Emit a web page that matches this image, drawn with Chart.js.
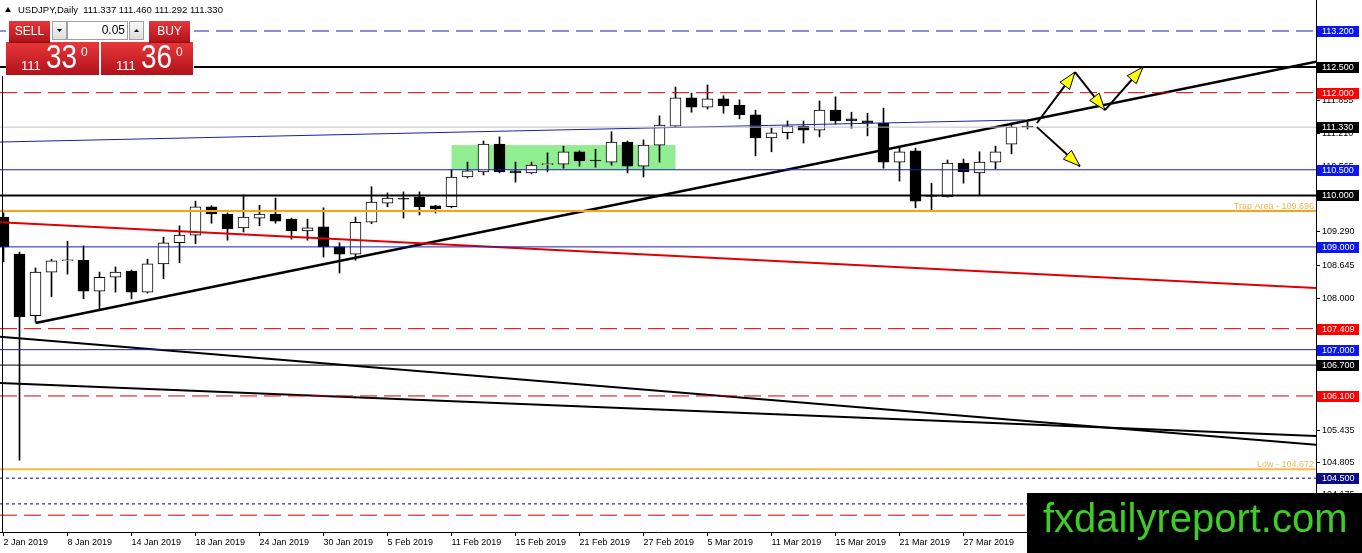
<!DOCTYPE html>
<html>
<head>
<meta charset="utf-8">
<title>USDJPY Daily</title>
<script src="https://cdn.jsdelivr.net/npm/chart.js"></script>
<style>
    html, body { margin: 0; padding: 0; background: #fff; overflow: hidden; }
    canvas { display: block; }
</style>
</head>
<body>
<canvas id="usdjpyChart" width="1362" height="553"></canvas>
<script>
(function () {
    "use strict";

    // Daily candles, 2 Jan - 2 Apr 2019
    const days = [
        '2 Jan', '3 Jan', '4 Jan', '7 Jan', '8 Jan', '9 Jan', '10 Jan', '11 Jan', '14 Jan', '15 Jan',
        '16 Jan', '17 Jan', '18 Jan', '21 Jan', '22 Jan', '23 Jan', '24 Jan', '25 Jan', '28 Jan', '29 Jan',
        '30 Jan', '31 Jan', '1 Feb', '4 Feb', '5 Feb', '6 Feb', '7 Feb', '8 Feb', '11 Feb', '12 Feb',
        '13 Feb', '14 Feb', '15 Feb', '18 Feb', '19 Feb', '20 Feb', '21 Feb', '22 Feb', '25 Feb', '26 Feb',
        '27 Feb', '28 Feb', '1 Mar', '4 Mar', '5 Mar', '6 Mar', '7 Mar', '8 Mar', '11 Mar', '12 Mar',
        '13 Mar', '14 Mar', '15 Mar', '18 Mar', '19 Mar', '20 Mar', '21 Mar', '22 Mar', '25 Mar', '26 Mar',
        '27 Mar', '28 Mar', '29 Mar', '1 Apr', '2 Apr'
    ];
    const opens = [
        109.58, 108.86, 107.66, 108.51, 108.73, 108.74, 108.14, 108.41, 108.53, 108.12,
        108.67, 109.08, 109.23, 109.78, 109.64, 109.37, 109.56, 109.64, 109.54, 109.31,
        109.39, 109.00, 108.86, 109.48, 109.85, 109.95, 109.97, 109.80, 109.78, 110.36,
        110.46, 111.00, 110.48, 110.44, 110.60, 110.61, 110.85, 110.69, 110.65, 111.04,
        110.57, 110.98, 111.35, 111.90, 111.72, 111.88, 111.76, 111.57, 111.12, 111.22,
        111.35, 111.27, 111.66, 111.49, 111.45, 111.41, 110.65, 110.87, 109.99, 109.97,
        110.63, 110.44, 110.65, 111.00, 111.337
    ];
    const highs = [
        109.66, 108.90, 108.59, 108.76, 109.11, 109.02, 108.51, 108.61, 108.55, 108.76,
        109.19, 109.41, 109.89, 109.80, 109.66, 110.01, 109.81, 109.95, 109.56, 109.54,
        109.76, 109.08, 109.58, 110.17, 110.05, 110.07, 110.07, 109.81, 110.50, 110.65,
        111.06, 111.14, 110.65, 110.65, 110.83, 110.96, 110.87, 110.90, 111.24, 111.06,
        111.08, 111.55, 112.11, 111.99, 112.15, 111.94, 111.86, 111.66, 111.31, 111.45,
        111.45, 111.84, 111.92, 111.62, 111.60, 111.70, 110.94, 110.92, 110.24, 110.69,
        110.71, 110.85, 110.96, 111.41, 111.460
    ];
    const lows = [
        108.71, 104.85, 107.54, 108.03, 108.47, 107.99, 107.77, 108.12, 107.99, 108.10,
        108.38, 108.69, 109.06, 109.46, 109.13, 109.29, 109.41, 109.46, 109.15, 109.13,
        108.80, 108.49, 108.74, 109.45, 109.78, 109.56, 109.62, 109.66, 109.76, 110.34,
        110.40, 110.44, 110.26, 110.42, 110.46, 110.53, 110.57, 110.55, 110.59, 110.44,
        110.36, 110.65, 111.33, 111.62, 111.68, 111.60, 111.49, 110.77, 110.85, 111.10,
        111.02, 111.14, 111.39, 111.31, 111.16, 110.53, 110.28, 109.76, 109.72, 109.97,
        110.24, 110.01, 110.52, 110.81, 111.292
    ];
    const closes = [
        109.00, 107.64, 108.51, 108.73, 108.74, 108.14, 108.41, 108.51, 108.12, 108.67,
        109.08, 109.23, 109.78, 109.64, 109.35, 109.58, 109.64, 109.50, 109.31, 109.37,
        109.00, 108.86, 109.48, 109.87, 109.95, 109.93, 109.78, 109.74, 110.36, 110.48,
        111.00, 110.46, 110.44, 110.59, 110.61, 110.85, 110.67, 110.67, 111.04, 110.57,
        110.98, 111.37, 111.90, 111.72, 111.88, 111.74, 111.57, 111.12, 111.22, 111.35,
        111.27, 111.66, 111.45, 111.45, 111.41, 110.65, 110.85, 109.89, 109.98, 110.63,
        110.46, 110.65, 110.85, 111.33, 111.330
    ];
    const askPrice = 111.360;
    const lotSize = '0.05';

    // Axis labels
    const dateTickIndex = [0, 4, 8, 12, 16, 20, 24, 28, 32, 36, 40, 44, 48, 52, 56, 60];
    const dateTickLabels = [
        '2 Jan 2019', '8 Jan 2019', '14 Jan 2019', '18 Jan 2019', '24 Jan 2019', '30 Jan 2019',
        '5 Feb 2019', '11 Feb 2019', '15 Feb 2019', '21 Feb 2019', '27 Feb 2019', '5 Mar 2019',
        '11 Mar 2019', '15 Mar 2019', '21 Mar 2019', '27 Mar 2019'
    ];
    const priceTicks = [113.130, 112.500, 111.855, 111.210, 110.565, 109.935, 109.290, 108.645,
        108.000, 107.355, 106.725, 106.080, 105.435, 104.805, 104.175];

    // Horizontal levels drawn on the chart
    const levelValues = [113.200, 112.500, 112.000, 111.330, 110.500, 110.000, 109.696, 109.000,
        107.409, 107.000, 106.700, 106.100, 104.672, 104.500, 104.000, 103.780];
    const levelNotes = { 109.696: 'Trap Area - 109.696', 104.672: 'Low - 104.672' };

    // Trend lines as [bar index, price] end points
    const blueTrend = [[-0.22, 111.04], [63.84, 111.47]];
    const riseTrend = [[2, 107.52], [82.03, 112.60]];
    const redTrend = [[-0.22, 109.48], [82.03, 108.20]];
    const fallTrendA = [[-0.22, 107.25], [82.03, 105.15]];
    const fallTrendB = [[-0.22, 106.35], [82.03, 105.32]];

    // Consolidation box (bar index range, price range)
    const zoneBars = [28, 42];
    const zonePrices = [110.50, 110.98];

    // Scenario arrows [[from], [to]]
    const arrowPaths = [
        [[64.59, 111.41], [66.97, 112.40]],
        [[66.97, 112.40], [68.84, 111.66]],
        [[68.84, 111.66], [71.22, 112.50]],
        [[64.59, 111.33], [67.28, 110.57]]
    ];

    // ---- styles ----
    const BLUE = '#1e1eaa', RED = '#d40000', NAVY = '#000080';
    const levelStyles = [
        { color: BLUE, width: 1, dash: [17, 7], tag: '#0b17f2' },
        { color: '#000', width: 2, dash: [], tag: '#000' },
        { color: RED, width: 1, dash: [17, 7], tag: '#ff0000' },
        { color: '#c0c0c0', width: 1, dash: [], tag: '#000' },
        { color: BLUE, width: 1, dash: [], tag: '#0b17f2' },
        { color: '#000', width: 2, dash: [], tag: '#000' },
        { color: '#f7a21b', width: 2, dash: [], tag: null, note: '#f2b64a' },
        { color: BLUE, width: 1, dash: [], tag: '#0b17f2' },
        { color: RED, width: 1, dash: [17, 7], tag: '#ff0000' },
        { color: BLUE, width: 1, dash: [], tag: '#0b17f2' },
        { color: '#000', width: 1, dash: [], tag: '#000' },
        { color: RED, width: 1, dash: [17, 7], tag: '#ff0000' },
        { color: '#f0be3c', width: 2, dash: [], tag: null, note: '#eab85c' },
        { color: NAVY, width: 1, dash: [3, 3], tag: '#0b0b8a' },
        { color: NAVY, width: 1, dash: [3, 3], tag: null },
        { color: RED, width: 1, dash: [17, 7], tag: null }
    ];

    const FONT = "'Liberation Sans', Arial, sans-serif";
    const axisFont = { family: FONT, size: 9 };

    // visible range: 16 px per bar, first bar centred at 3.5 px
    const xMin = -3.5 / 16, xMax = xMin + 1316 / 16;
    const yMax = 113.2 + 31 / 51.4, yMin = yMax - 532 / 51.4;

    const lineSet = (pts, color, width, dash) => ({
        type: 'line',
        data: pts.map(p => ({ x: p[0], y: p[1] })),
        borderColor: color,
        borderWidth: width,
        borderDash: dash || [],
        pointRadius: 0,
        tension: 0,
        order: 1,
        clip: 0
    });

    const datasets = [];
    levelValues.forEach((v, k) => {
        const st = levelStyles[k];
        datasets.push(lineSet([[xMin, v], [xMax, v]], st.color, st.width, st.dash));
    });
    datasets.push(lineSet(blueTrend, BLUE, 1));
    datasets.push(lineSet(redTrend, '#e00000', 2));
    datasets.push(lineSet(fallTrendA, '#000', 2));
    datasets.push(lineSet(fallTrendB, '#000', 2));
    datasets.push(lineSet(riseTrend, '#000', 2.5));

    // candle bodies
    datasets.push({
        type: 'bar',
        data: days.map((d, i) => ({ x: i, y: [opens[i], closes[i]] })),
        backgroundColor: days.map((d, i) => closes[i] > opens[i] ? '#fff' : '#000'),
        borderColor: '#000',
        borderWidth: 1,
        borderSkipped: false,
        barThickness: 11,
        minBarLength: 1,
        grouped: false,
        order: 2,
        clip: 0
    });
    // wicks
    datasets.push({
        type: 'bar',
        data: days.map((d, i) => ({ x: i, y: [lows[i], highs[i]] })),
        backgroundColor: '#000',
        borderWidth: 0,
        barThickness: 1,
        grouped: false,
        order: 3,
        clip: 0
    });

    function drawArrow(ctx, x0, y0, x1, y1) {
        const a = Math.atan2(y1 - y0, x1 - x0);
        const len = 17, half = 6;
        ctx.strokeStyle = '#000';
        ctx.lineWidth = 2;
        ctx.beginPath();
        ctx.moveTo(x0, y0);
        ctx.lineTo(x1, y1);
        ctx.stroke();
        const bx = x1 - Math.cos(a) * len, by = y1 - Math.sin(a) * len;
        ctx.beginPath();
        ctx.moveTo(x1, y1);
        ctx.lineTo(bx + Math.sin(a) * half, by - Math.cos(a) * half);
        ctx.lineTo(bx - Math.sin(a) * half, by + Math.cos(a) * half);
        ctx.closePath();
        ctx.fillStyle = '#ffff00';
        ctx.fill();
        ctx.lineWidth = 1;
        ctx.stroke();
    }

    function redBox(ctx, x, y, w, h) {
        const g = ctx.createLinearGradient(0, y, 0, y + h);
        g.addColorStop(0, '#e8373b');
        g.addColorStop(1, '#b0121a');
        ctx.fillStyle = g;
        ctx.fillRect(x, y, w, h);
    }

    function grayBox(ctx, x, y, w, h) {
        const g = ctx.createLinearGradient(0, y, 0, y + h);
        g.addColorStop(0, '#fafafa');
        g.addColorStop(1, '#dcdcdc');
        ctx.fillStyle = g;
        ctx.fillRect(x, y, w, h);
        ctx.strokeStyle = '#a0a0a0';
        ctx.lineWidth = 1;
        ctx.strokeRect(x + 0.5, y + 0.5, w - 1, h - 1);
    }

    function drawQuote(ctx, price, x) {
        const s = price.toFixed(3);
        ctx.fillStyle = '#fff';
        ctx.textBaseline = 'alphabetic';
        ctx.textAlign = 'left';
        ctx.font = '13px ' + FONT;
        ctx.fillText(s.slice(0, 3), x + 15, 70);
        ctx.save();
        ctx.translate(x + 40, 68);
        ctx.scale(0.82, 1);
        ctx.font = '34px ' + FONT;
        ctx.fillText(s.slice(4, 6), 0, 0);
        ctx.restore();
        ctx.font = '12px ' + FONT;
        ctx.fillText(s.slice(6), x + 75, 56);
    }

    function drawPanel(ctx) {
        const last = days.length - 1;
        // symbol line
        ctx.fillStyle = '#000';
        ctx.beginPath();
        ctx.moveTo(5, 12); ctx.lineTo(11, 12); ctx.lineTo(8, 7);
        ctx.closePath();
        ctx.fill();
        ctx.font = '9.5px ' + FONT;
        ctx.textAlign = 'left';
        ctx.textBaseline = 'middle';
        ctx.fillText('USDJPY,Daily  ' + [opens[last], highs[last], lows[last], closes[last]]
            .map(v => v.toFixed(3)).join(' '), 18, 10.5);

        // one click trading panel
        ctx.fillStyle = '#fff';
        ctx.fillRect(6, 19, 188, 57);
        redBox(ctx, 9, 21, 41, 21);
        redBox(ctx, 149, 21, 41, 21);
        grayBox(ctx, 52, 21, 15, 19);
        ctx.fillStyle = '#fff';
        ctx.fillRect(67, 21, 61, 19);
        ctx.strokeStyle = '#a0a0a0';
        ctx.strokeRect(67.5, 21.5, 60, 18);
        grayBox(ctx, 129, 21, 15, 19);
        ctx.fillStyle = '#000';
        ctx.beginPath();
        ctx.moveTo(57, 29); ctx.lineTo(62, 29); ctx.lineTo(59.5, 32);
        ctx.closePath(); ctx.fill();
        ctx.beginPath();
        ctx.moveTo(134, 32); ctx.lineTo(139, 32); ctx.lineTo(136.5, 29);
        ctx.closePath(); ctx.fill();
        ctx.font = '12px ' + FONT;
        ctx.textAlign = 'right';
        ctx.fillText(lotSize, 125, 31);
        ctx.fillStyle = '#fff';
        ctx.textAlign = 'center';
        ctx.fillText('SELL', 29.5, 31.5);
        ctx.fillText('BUY', 169.5, 31.5);
        redBox(ctx, 6, 42, 93, 33);
        redBox(ctx, 101, 42, 92, 33);
        ctx.fillStyle = '#8c0c10';
        ctx.fillRect(9, 42, 41, 1);
        ctx.fillRect(149, 42, 41, 1);
        drawQuote(ctx, closes[last], 6);
        drawQuote(ctx, askPrice, 101);
    }

    const overlay = {
        id: 'overlay',
        beforeDatasetsDraw(chart) {
            const { ctx, scales: { x, y } } = chart;
            const x0 = x.getPixelForValue(zoneBars[0]), x1 = x.getPixelForValue(zoneBars[1]);
            const y0 = y.getPixelForValue(zonePrices[1]), y1 = y.getPixelForValue(zonePrices[0]);
            ctx.save();
            ctx.fillStyle = '#90ee90';
            ctx.fillRect(x0, y0, x1 - x0, y1 - y0);
            ctx.restore();
        },
        afterDatasetsDraw(chart) {
            const { ctx, chartArea, scales: { x, y } } = chart;
            ctx.save();
            // left edge line
            ctx.fillStyle = '#000';
            ctx.fillRect(2, 76, 1, chartArea.bottom - 76);
            // scenario arrows
            arrowPaths.forEach(p => {
                drawArrow(ctx, x.getPixelForValue(p[0][0]), y.getPixelForValue(p[0][1]),
                    x.getPixelForValue(p[1][0]), y.getPixelForValue(p[1][1]));
            });
            // level notes
            ctx.font = '9px ' + FONT;
            ctx.textAlign = 'right';
            ctx.textBaseline = 'alphabetic';
            levelValues.forEach((v, k) => {
                if (!levelNotes[v]) return;
                ctx.fillStyle = levelStyles[k].note;
                ctx.fillText(levelNotes[v], chartArea.right - 2, y.getPixelForValue(v) - 2.5);
            });
            ctx.restore();
        },
        afterDraw(chart) {
            const { ctx, chartArea, scales: { y } } = chart;
            ctx.save();
            // price tags on the axis
            ctx.font = '9px ' + FONT;
            ctx.textAlign = 'left';
            ctx.textBaseline = 'middle';
            levelValues.forEach((v, k) => {
                const st = levelStyles[k];
                if (!st.tag) return;
                const yy = Math.round(y.getPixelForValue(v));
                ctx.fillStyle = st.tag;
                ctx.fillRect(chartArea.right + 1, yy - 5, 42, 11);
                ctx.fillStyle = '#fff';
                ctx.fillText(v.toFixed(3), chartArea.right + 6, yy + 0.5);
            });
            drawPanel(ctx);
            // watermark
            ctx.fillStyle = '#000';
            ctx.fillRect(1027, 493, 335, 60);
            ctx.fillStyle = '#3fcc26';
            ctx.font = '40px ' + FONT;
            ctx.textAlign = 'left';
            ctx.textBaseline = 'alphabetic';
            ctx.fillText('fxdailyreport.com', 1043, 532);
            ctx.restore();
        }
    };

    new Chart(document.getElementById('usdjpyChart'), {
        type: 'bar',
        data: { datasets: datasets },
        plugins: [overlay],
        options: {
            responsive: false,
            animation: false,
            events: [],
            layout: { padding: 0 },
            plugins: {
                legend: { display: false },
                tooltip: { enabled: false }
            },
            scales: {
                x: {
                    type: 'linear',
                    position: 'bottom',
                    min: xMin,
                    max: xMax,
                    offset: false,
                    afterBuildTicks: s => { s.ticks = dateTickIndex.map(v => ({ value: v })); },
                    afterFit: s => { s.height = 21; s.paddingLeft = 0; s.paddingRight = 0; },
                    ticks: {
                        autoSkip: false,
                        maxRotation: 0,
                        align: 'start',
                        padding: 1,
                        color: '#000',
                        font: axisFont,
                        callback: (v, i) => dateTickLabels[i]
                    },
                    grid: { drawOnChartArea: false, offset: false, tickLength: 4, color: '#000' },
                    border: { color: '#000' }
                },
                y: {
                    type: 'linear',
                    position: 'right',
                    min: yMin,
                    max: yMax,
                    beginAtZero: false,
                    afterBuildTicks: s => { s.ticks = priceTicks.map(v => ({ value: v })); },
                    afterFit: s => { s.width = 46; s.paddingTop = 0; s.paddingBottom = 0; },
                    ticks: {
                        padding: 2,
                        color: '#000',
                        font: axisFont,
                        callback: v => v.toFixed(3)
                    },
                    grid: { drawOnChartArea: false, tickLength: 4, color: '#000' },
                    border: { color: '#000' }
                }
            }
        }
    });
})();
</script>
</body>
</html>
